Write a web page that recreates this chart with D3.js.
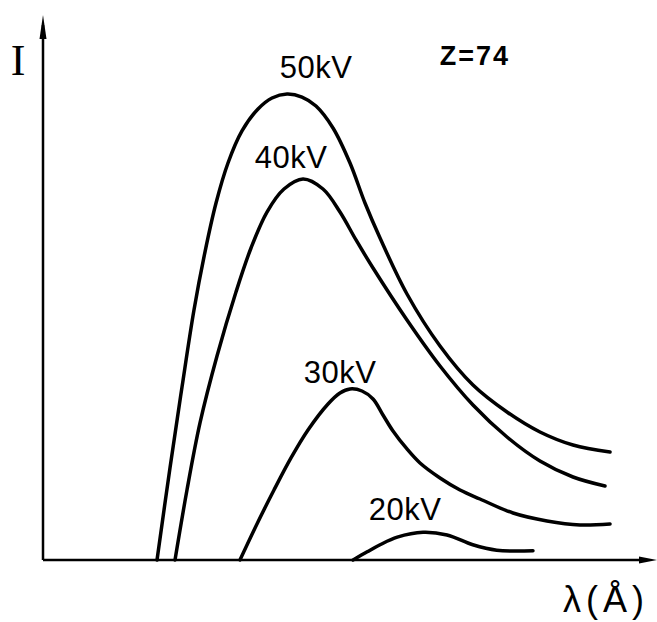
<!DOCTYPE html>
<html>
<head>
<meta charset="utf-8">
<script src="https://cdn.jsdelivr.net/npm/d3@7"></script>
<style>
  html, body { margin: 0; padding: 0; background: #fff; }
  svg { display: block; }
  text { font-family: "Liberation Sans", Arial, sans-serif; fill: #000; }
</style>
</head>
<body>
<div id="chart"></div>
<script>
// tube voltages (one curve each)
const voltages = ["50kV", "40kV", "30kV", "20kV"]

// wavelength (arbitrary units, 0..100) and intensity (0..100)
const lambda50 = [18.57, 20.68, 22.64, 24.59, 26.38, 28.18, 30.13, 32.41, 35.02, 37.30, 39.74, 42.18, 44.46, 47.23, 50.00, 52.44, 54.89, 59.28, 64.66, 70.03, 75.57, 80.94, 86.32, 92.35]
const inten50  = [0, 16.88, 31.74, 45.87, 56.51, 65.50, 72.84, 78.72, 82.75, 84.77, 85.50, 84.95, 83.30, 79.27, 72.84, 65.50, 59.08, 48.81, 39.27, 32.11, 27.16, 23.49, 21.10, 19.82]

const lambda40 = [21.50, 23.45, 25.57, 28.34, 31.43, 33.88, 36.48, 39.25, 42.35, 45.60, 48.37, 50.98, 53.75, 59.28, 64.66, 70.03, 75.57, 80.94, 86.32, 91.53]
const inten40  = [0, 12.84, 25.14, 37.43, 49.17, 57.25, 63.85, 68.07, 69.91, 68.07, 63.85, 58.72, 53.58, 44.04, 35.60, 28.44, 22.57, 18.17, 15.23, 13.58]

const lambda30 = [32.08, 34.85, 37.62, 40.39, 43.16, 46.42, 48.37, 50.00, 51.95, 53.75, 55.37, 57.00, 59.28, 61.40, 64.66, 67.92, 71.17, 76.55, 82.08, 87.46, 92.35]
const inten30  = [0, 6.61, 12.84, 18.72, 23.85, 28.62, 30.64, 31.38, 31.01, 29.54, 26.61, 23.67, 20.37, 17.80, 15.05, 12.84, 11.19, 8.62, 7.16, 6.42, 6.61]

const lambda20 = [50.5, 52.8, 54.9, 57.7, 61.9, 65.8, 70.0, 73.9, 79.8]
const inten20  = [0, 1.5, 2.8, 4.2, 5.1, 4.6, 2.8, 1.8, 1.7]

const series = [
    {name: voltages[0], x: lambda50, y: inten50},
    {name: voltages[1], x: lambda40, y: inten40},
    {name: voltages[2], x: lambda30, y: inten30},
    {name: voltages[3], x: lambda20, y: inten20}
]

// label offsets from each curve's peak, in px
const labelShift = [[29, -16], [-12, -11], [-10, -6], [-18, -12]]

const width = 657, height = 622

const svg = d3.select("#chart")
    .append("svg")
    .attr("width", width)
    .attr("height", height)

const xScale = d3.scaleLinear().domain([0, 100]).range([43, 657])
const yScale = d3.scaleLinear().domain([0, 100]).range([560, 15])

// axes: plain lines with arrow heads
svg.append("line")
    .attr("x1", xScale(0)).attr("y1", yScale(0))
    .attr("x2", xScale(0)).attr("y2", yScale(100) + 10)
    .style("stroke", "black").style("stroke-width", 2.5)
svg.append("path")
    .attr("d", `M${xScale(0)},${yScale(100)} L${xScale(0) - 3.5},${yScale(100) + 24} L${xScale(0) + 3.5},${yScale(100) + 24} Z`)
    .style("fill", "black")

svg.append("line")
    .attr("x1", xScale(0)).attr("y1", yScale(0))
    .attr("x2", xScale(100) - 10).attr("y2", yScale(0))
    .style("stroke", "black").style("stroke-width", 2.5)
svg.append("path")
    .attr("d", `M${xScale(100)},${yScale(0)} L${xScale(100) - 18},${yScale(0) - 3.5} L${xScale(100) - 18},${yScale(0) + 3.5} Z`)
    .style("fill", "black")

const line = d3.line()
    .x(d => xScale(d[0]))
    .y(d => yScale(d[1]))
    .curve(d3.curveCatmullRom.alpha(0.5))

svg.selectAll(".curve")
    .data(series)
    .enter()
    .append("path")
    .classed("curve", true)
    .attr("d", s => line(s.x.map((v, i) => [v, s.y[i]])))
    .style("fill", "none")
    .style("stroke", "black")
    .style("stroke-width", 3.5)
    .style("stroke-linecap", "round")
    .style("stroke-linejoin", "round")

svg.selectAll(".kv")
    .data(series)
    .enter()
    .append("text")
    .classed("kv", true)
    .attr("x", (s, i) => {
        let k = d3.maxIndex(s.y)
        return xScale(s.x[k]) + labelShift[i][0]
    })
    .attr("y", (s, i) => {
        let k = d3.maxIndex(s.y)
        return yScale(s.y[k]) + labelShift[i][1]
    })
    .attr("text-anchor", "middle")
    .style("font-size", "31px")
    .style("letter-spacing", "0.5px")
    .text(s => s.name)

// axis titles
svg.append("text")
    .attr("x", 18).attr("y", 75)
    .attr("text-anchor", "middle")
    .style("font-family", "'Liberation Serif', serif")
    .style("font-size", "44px")
    .text("I")

svg.append("text")
    .attr("x", 606).attr("y", 612)
    .attr("text-anchor", "middle")
    .style("font-size", "36px")
    .style("letter-spacing", "5px")
    .text("λ(Å)")

svg.append("text")
    .attr("x", 475).attr("y", 65)
    .attr("text-anchor", "middle")
    .style("font-size", "27px")
    .style("font-weight", "bold")
    .style("letter-spacing", "2px")
    .text("Z=74")
</script>
</body>
</html>
